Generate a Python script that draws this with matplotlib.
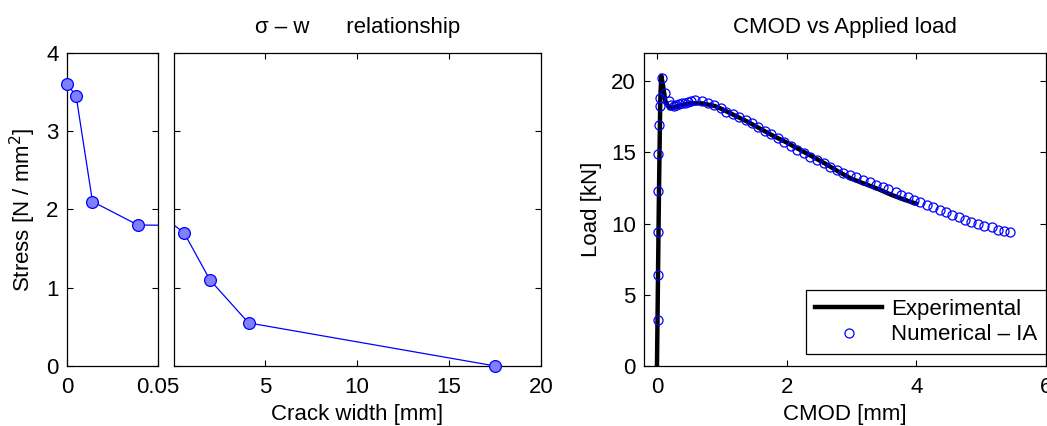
import matplotlib

matplotlib.use("Agg")

import matplotlib.pyplot as plt
import numpy as np

plt.rcParams["font.family"] = ["Liberation Sans", "DejaVu Sans"]
plt.rcParams["font.size"] = 16

# sigma-w softening law (crack width in mm, stress in N/mm^2)
crack_width = [0.0, 0.005, 0.014, 0.039, 0.6, 2.0, 4.1, 17.5]
stress = [3.6, 3.45, 2.1, 1.8, 1.7, 1.1, 0.55, 0.0]

# experimental CMOD / load curve
cmod_exp = [0.0, 0.03, 0.05, 0.065, 0.09, 0.13, 0.19, 0.25, 0.35, 0.5, 0.7, 0.9,
            1.0, 1.2, 1.4, 1.6, 1.8, 2.0, 2.2, 2.4, 2.6, 2.8, 3.0, 3.2, 3.4,
            3.6, 3.8, 4.0]
load_exp = [0.0, 12.0, 18.5, 20.4, 19.8, 18.6, 18.1, 18.15, 18.3, 18.45, 18.45,
            18.25, 18.05, 17.6, 17.15, 16.65, 16.15, 15.7, 15.2, 14.7, 14.2,
            13.65, 13.15, 12.8, 12.45, 12.05, 11.7, 11.4]

# numerical (inverse analysis) CMOD / load points
cmod_num = [0.01, 0.01, 0.01, 0.01, 0.01, 0.026, 0.04, 0.04, 0.077, 0.12, 0.19,
            0.22, 0.26, 0.30, 0.34, 0.39, 0.43, 0.48, 0.53, 0.59, 0.69, 0.79,
            0.88, 0.98, 1.07, 1.17, 1.27, 1.37, 1.46, 1.56, 1.67, 1.76, 1.86,
            1.96, 2.06, 2.16, 2.26, 2.36, 2.46, 2.57, 2.67, 2.77, 2.87, 2.97,
            3.07, 3.18, 3.28, 3.38, 3.48, 3.57, 3.68, 3.77, 3.87, 3.96, 4.06,
            4.17, 4.26, 4.36, 4.46, 4.55, 4.66, 4.75, 4.85, 4.95, 5.05, 5.16,
            5.26, 5.35, 5.45]
load_num = [3.2, 6.4, 9.4, 12.3, 14.9, 16.9, 18.23, 18.86, 20.26, 19.18, 18.6,
            18.32, 18.27, 18.32, 18.39, 18.44, 18.48, 18.55, 18.6, 18.69, 18.6,
            18.48, 18.32, 18.09, 17.86, 17.69, 17.46, 17.27, 17.04, 16.76,
            16.53, 16.27, 15.99, 15.76, 15.45, 15.17, 14.94, 14.71, 14.48,
            14.24, 14.01, 13.78, 13.59, 13.43, 13.24, 13.08, 12.89, 12.73,
            12.56, 12.40, 12.19, 12.03, 11.86, 11.68, 11.49, 11.33, 11.17,
            10.98, 10.79, 10.63, 10.44, 10.28, 10.12, 9.98, 9.86, 9.74, 9.58,
            9.46, 9.39]


def style_box(ax):
    ax.tick_params(direction="in", top=True, right=True, length=4, width=0.8,
                   labelsize=16)
    ax.tick_params(axis="x", pad=8)
    ax.tick_params(axis="y", pad=6)
    for sp in ax.spines.values():
        sp.set_linewidth(0.9)


def softening(ax, xlim):
    w = np.asarray(crack_width)
    s = np.asarray(stress)
    ax.plot(w, s, color="#0000ff", linewidth=0.9)
    # markers at the panel edges are drawn whole, the line is clipped
    keep = (w >= xlim[0]) & (w <= xlim[1])
    ax.plot(w[keep], s[keep], linestyle="none", marker="o", markersize=8.5,
            markerfacecolor="#8080ff", markeredgecolor="#0000ff",
            markeredgewidth=0.9, clip_on=False, zorder=3)
    ax.set_xlim(*xlim)
    ax.set_ylim(0, 4)
    style_box(ax)


fig = plt.figure(figsize=(10.47, 4.26), dpi=100)

ax1 = fig.add_axes([0.064, 0.141, 0.0869, 0.735])
softening(ax1, (0.0, 0.05))
ax1.set_xticks([0, 0.05])
ax1.set_xticklabels(["0", "0.05"])
ax1.set_yticks([0, 1, 2, 3, 4])
ax1.set_ylabel("Stress [N / mm$^2$]", labelpad=6)

ax2 = fig.add_axes([0.1662, 0.141, 0.3505, 0.735])
softening(ax2, (0.05, 20.0))
ax2.set_xticks([5, 10, 15, 20])
ax2.set_yticks([0, 1, 2, 3, 4])
ax2.set_yticklabels([])
ax2.set_xlabel("Crack width [mm]", labelpad=4)
ax2.set_title("σ – w      relationship", fontsize=16, pad=14)

ax3 = fig.add_axes([0.6151, 0.141, 0.384, 0.735])
ax3.plot(cmod_exp, load_exp, color="black", linewidth=3.2,
         label="Experimental")
ax3.plot(cmod_num, load_num, linestyle="none", marker="o", markersize=6.5,
         markerfacecolor="none", markeredgecolor="#0000ff",
         markeredgewidth=0.9, label="Numerical – IA")
ax3.set_xlim(-0.2, 6)
ax3.set_ylim(0, 22)
ax3.set_xticks([0, 2, 4, 6])
ax3.set_yticks([0, 5, 10, 15, 20])
style_box(ax3)
ax3.set_xlabel("CMOD [mm]", labelpad=4)
ax3.set_ylabel("Load [kN]", labelpad=6)
ax3.set_title("CMOD vs Applied load", fontsize=16, pad=14)
leg = ax3.legend(loc="lower right", bbox_to_anchor=(1.0, 0.037),
                 borderaxespad=0, fancybox=False, edgecolor="black",
                 framealpha=1, handlelength=3.0, numpoints=1, fontsize=16,
                 borderpad=0.4, labelspacing=0.2, handletextpad=0.4)
leg.get_frame().set_linewidth(0.9)

fig.savefig("out.png", dpi=100)
